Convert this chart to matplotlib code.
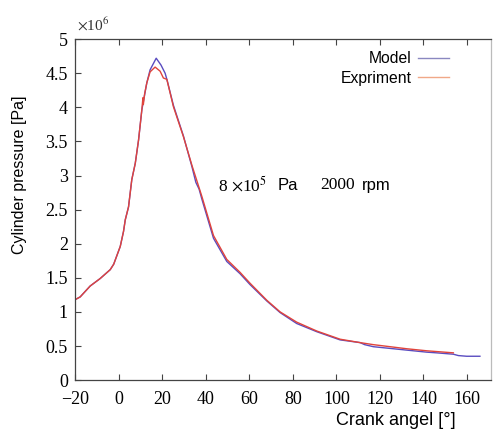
"""Cylinder pressure vs crank angle: model vs experiment."""

import matplotlib
matplotlib.use("Agg")
import matplotlib.pyplot as plt
from matplotlib.lines import Line2D
from matplotlib.ticker import FuncFormatter

plt.rcParams["mathtext.fontset"] = "stix"

# crank angle [deg] and pressure [x1e6 Pa]
exp_angle = [-19.9, -17.6, -13.0, -8.4, -3.8, -2.2, 0.8, 2.3, 3.1, 4.6, 6.1,
             7.7, 9.2, 10.7, 11.2, 11.4, 12.0, 13.0, 14.5, 16.8, 19.1, 20.6,
             22.2, 25.2, 29.8, 33.7, 38.3, 43.6, 49.7, 55.8, 60.4, 68.1, 74.2,
             81.8, 91.0, 101.7, 110.9, 117.0, 132.3, 141.5, 153.7]
exp_pressure = [1.18, 1.22, 1.38, 1.49, 1.62, 1.70, 1.96, 2.18, 2.35, 2.54, 2.94,
                3.18, 3.52, 3.96, 4.14, 4.04, 4.20, 4.36, 4.52, 4.59, 4.53, 4.43,
                4.41, 4.01, 3.57, 3.15, 2.69, 2.12, 1.77, 1.58, 1.42, 1.17, 1.00,
                0.85, 0.72, 0.60, 0.55, 0.52, 0.46, 0.43, 0.40]

model_angle = [-19.9, -17.6, -13.0, -8.4, -3.8, -2.2, 0.8, 2.3, 3.1, 4.6, 6.1,
               7.7, 9.2, 10.7, 13.0, 14.5, 17.3, 19.5, 21.4, 22.2, 25.2, 29.8,
               33.7, 35.5, 37.0, 38.3, 43.6, 49.7, 55.8, 60.4, 68.1, 74.2, 81.8,
               91.0, 101.7, 110.9, 113.0, 117.0, 132.3, 141.5, 146.0, 153.7,
               156.0, 159.8, 165.9]
model_pressure = [1.18, 1.22, 1.38, 1.49, 1.62, 1.70, 1.96, 2.18, 2.35, 2.54, 2.94,
                  3.18, 3.52, 3.96, 4.36, 4.55, 4.72, 4.62, 4.50, 4.41, 4.03, 3.58,
                  3.13, 2.90, 2.80, 2.65, 2.08, 1.74, 1.56, 1.40, 1.16, 0.99, 0.83,
                  0.71, 0.59, 0.55, 0.52, 0.49, 0.44, 0.41, 0.40, 0.38,
                  0.36, 0.35, 0.35]

x_ticks = list(range(-20, 161, 20))
y_ticks = [0, 0.5, 1, 1.5, 2, 2.5, 3, 3.5, 4, 4.5, 5]

SERIF = "Liberation Serif"
SANS = "Liberation Sans"
MODEL_C = "#5a4cc0"
EXP_C = "#e0443c"

fig = plt.figure(figsize=(4.93, 4.30), dpi=100)
ax = fig.add_axes([0.152, 0.116, 0.844, 0.793])

ax.plot(model_angle, model_pressure, color=MODEL_C, lw=1.0)
ax.plot(exp_angle, exp_pressure, color=EXP_C, lw=1.0)

ax.set_xlim(-20, 171)
ax.set_ylim(0, 5)
ax.set_xticks(x_ticks)
ax.set_yticks(y_ticks)
ax.yaxis.set_major_formatter(FuncFormatter(lambda v, _: f"{v:g}"))
ax.tick_params(direction="in", length=4, width=0.8, color="#444444",
               top=True, right=False, labelsize=13)
ax.tick_params(axis="x", pad=8)
ax.tick_params(axis="y", pad=5)
for lab in ax.get_xticklabels() + ax.get_yticklabels():
    lab.set_fontfamily(SERIF)
for sp in ax.spines.values():
    sp.set_color("#444444")
    sp.set_linewidth(0.9)
ax.spines["right"].set_color("#bbbbbb")

ax.text(0.005, 1.015, r"$\times$10$^6$", transform=ax.transAxes,
        family=SERIF, fontsize=11, color="#333333", va="bottom")

# annotation
ax.text(45.5, 2.86, r"8 $\times$10$^5$", family=SERIF, fontsize=12.5, va="center")
ax.text(73.0, 2.86, "Pa", family=SANS, fontsize=12, va="center")
ax.text(92.5, 2.86, "2000", family=SERIF, fontsize=12.5, va="center")
ax.text(111.5, 2.86, "rpm", family=SANS, fontsize=12, va="center")

handles = [Line2D([], [], color="#8a88c0", lw=1.0),
           Line2D([], [], color="#f0a888", lw=1.0)]
ax.legend(handles, ["Model", "Expriment"], loc="upper right",
          bbox_to_anchor=(0.90, 0.965), frameon=False, markerfirst=False,
          prop={"family": SANS, "size": 11.3}, handlelength=2.0,
          handletextpad=0.4, borderaxespad=0, borderpad=0, labelspacing=0.3)

fig.text(0.039, 0.593, "Cylinder pressure [Pa]", rotation=90, family=SANS,
         fontsize=11.5, ha="center", va="center")
fig.text(0.803, 0.022, "Crank angel [°]", family=SANS, fontsize=13,
         ha="center", va="center")

fig.savefig("out.png", dpi=100)
